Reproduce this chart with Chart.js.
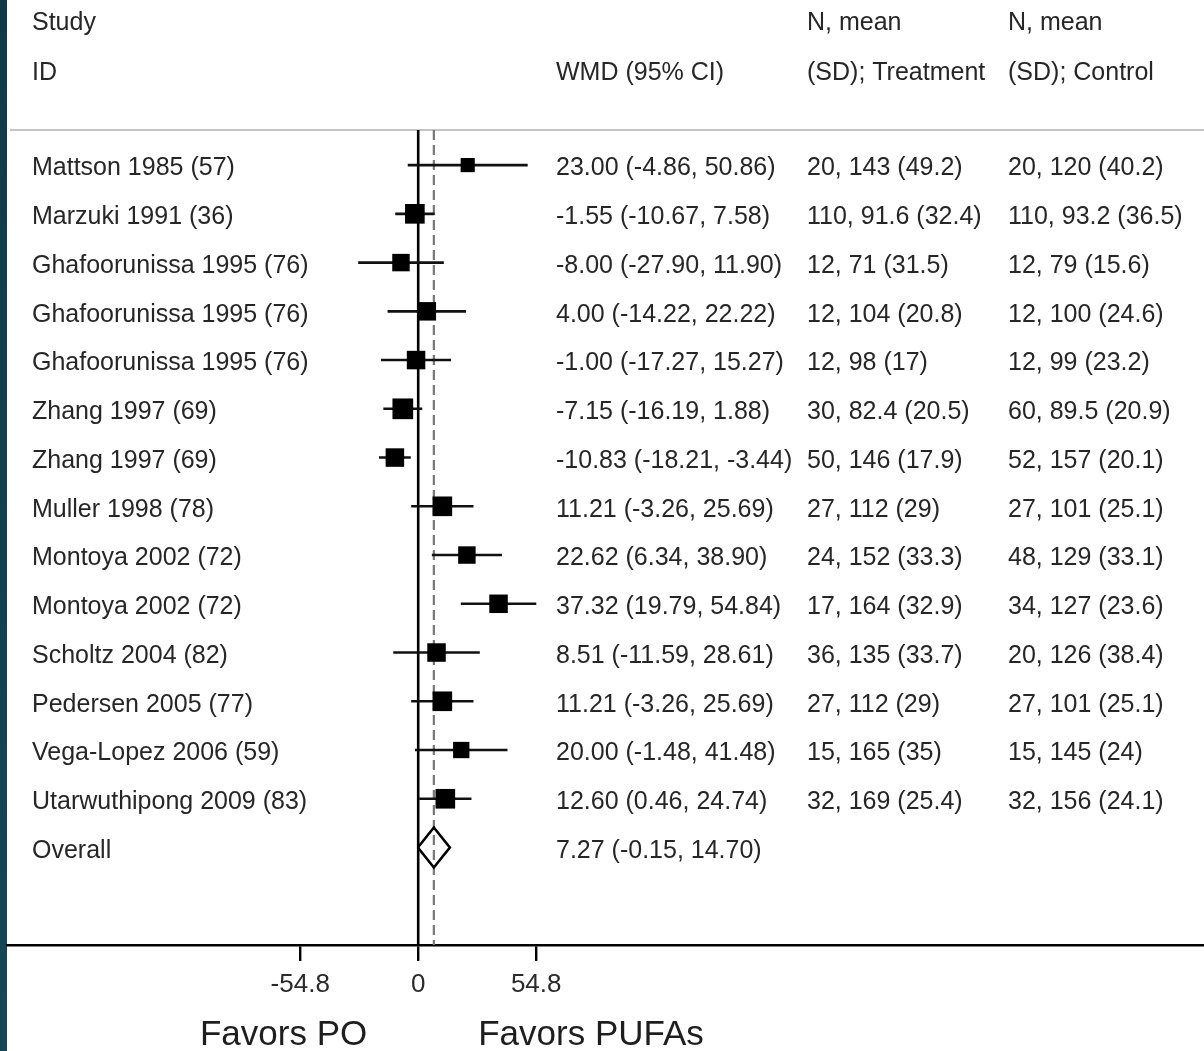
<!DOCTYPE html>
<html>
<head>
<meta charset="utf-8">
<script src="https://cdn.jsdelivr.net/npm/chart.js@4/dist/chart.umd.min.js"></script>
<style>
  html, body { margin: 0; padding: 0; background: #fff; }
  #wrap { width: 1204px; height: 1051px; position: relative; }
</style>
</head>
<body>
<div id="wrap"><canvas id="c" width="1204" height="1051"></canvas></div>
<script>
// ---------- data ----------
const studies = [
  'Mattson 1985 (57)', 'Marzuki 1991 (36)', 'Ghafoorunissa 1995 (76)', 'Ghafoorunissa 1995 (76)',
  'Ghafoorunissa 1995 (76)', 'Zhang 1997 (69)', 'Zhang 1997 (69)', 'Muller 1998 (78)',
  'Montoya 2002 (72)', 'Montoya 2002 (72)', 'Scholtz 2004 (82)', 'Pedersen 2005 (77)',
  'Vega-Lopez 2006 (59)', 'Utarwuthipong 2009 (83)'
];
const wmd   = [23.00, -1.55, -8.00, 4.00, -1.00, -7.15, -10.83, 11.21, 22.62, 37.32, 8.51, 11.21, 20.00, 12.60];
const ciLow = [-4.86, -10.67, -27.90, -14.22, -17.27, -16.19, -18.21, -3.26, 6.34, 19.79, -11.59, -3.26, -1.48, 0.46];
const ciHigh= [50.86, 7.58, 11.90, 22.22, 15.27, 1.88, -3.44, 25.69, 38.90, 54.84, 28.61, 25.69, 41.48, 24.74];
const weights = [4.2, 8.1, 6.4, 7.2, 7.2, 9.0, 7.2, 8.1, 6.4, 7.2, 7.2, 8.1, 5.6, 8.1]; // estimated % weights
const treatment = [
  '20, 143 (49.2)', '110, 91.6 (32.4)', '12, 71 (31.5)', '12, 104 (20.8)', '12, 98 (17)',
  '30, 82.4 (20.5)', '50, 146 (17.9)', '27, 112 (29)', '24, 152 (33.3)', '17, 164 (32.9)',
  '36, 135 (33.7)', '27, 112 (29)', '15, 165 (35)', '32, 169 (25.4)'
];
const control = [
  '20, 120 (40.2)', '110, 93.2 (36.5)', '12, 79 (15.6)', '12, 100 (24.6)', '12, 99 (23.2)',
  '60, 89.5 (20.9)', '52, 157 (20.1)', '27, 101 (25.1)', '48, 129 (33.1)', '34, 127 (23.6)',
  '20, 126 (38.4)', '27, 101 (25.1)', '15, 145 (24)', '32, 156 (24.1)'
];
const overall = { label: 'Overall', est: 7.27, lo: -0.15, hi: 14.70 };
const tickValues = [-54.8, 0, 54.8];
const tickLabels = ['-54.8', '0', '54.8'];
const headerCols = [['Study', 'ID'], ['', 'WMD (95% CI)'], ['N, mean', '(SD); Treatment'], ['N, mean', '(SD); Control']];
const favorLabels = ['Favors PO', 'Favors PUFAs'];

// ---------- chart ----------
const FONT = "'Liberation Sans', Arial, Helvetica, sans-serif";
const overallRow = studies.length;
const fmt = v => v.toFixed(2);
const boxRadius = w => 6.9 * Math.sqrt(w) / Math.SQRT2;

const datasets = [];
// squares
datasets.push({
  type: 'scatter',
  data: wmd.map((v, i) => ({ x: v, y: i })),
  pointStyle: 'rect',
  pointRadius: weights.map(boxRadius),
  pointHoverRadius: weights.map(boxRadius),
  backgroundColor: '#000', borderColor: '#000', borderWidth: 0,
  order: 0, clip: false
});
// CI lines
studies.forEach((s, i) => {
  datasets.push({
    type: 'line',
    data: [{ x: ciLow[i], y: i }, { x: ciHigh[i], y: i }],
    borderColor: '#111', borderWidth: 2.6, pointRadius: 0, fill: false,
    order: 1, clip: false
  });
});
// overall diamond
const dh = 0.41;
datasets.push({
  type: 'line',
  data: [
    { x: overall.lo, y: overallRow }, { x: overall.est, y: overallRow - dh },
    { x: overall.hi, y: overallRow }, { x: overall.est, y: overallRow + dh },
    { x: overall.lo, y: overallRow }
  ],
  borderColor: '#000', borderWidth: 2.6, pointRadius: 0, fill: false, tension: 0,
  borderJoinStyle: 'miter', order: 1, clip: false
});
// null line (0)
datasets.push({
  type: 'line',
  data: [{ x: 0, y: -0.72 }, { x: 0, y: 16 }],
  borderColor: '#000', borderWidth: 2.6, pointRadius: 0, order: 3, clip: false
});
// overall dashed line
datasets.push({
  type: 'line',
  data: [{ x: overall.est, y: -0.72 }, { x: overall.est, y: 16 }],
  borderColor: '#777', borderWidth: 2.2, borderDash: [10, 5], pointRadius: 0, order: 2, clip: false
});

const textPlugin = {
  id: 'forestText',
  beforeDraw(chart) {
    const ctx = chart.ctx;
    ctx.save();
    ctx.fillStyle = '#fff';
    ctx.fillRect(0, 0, chart.width, chart.height);
    const g = ctx.createLinearGradient(0, 0, 0, chart.height);
    g.addColorStop(0, '#113a49');
    g.addColorStop(1, '#164656');
    ctx.fillStyle = g;
    ctx.fillRect(0, 0, 7, chart.height);
    // header separator
    ctx.strokeStyle = '#c4c4c4';
    ctx.lineWidth = 2;
    ctx.beginPath();
    ctx.moveTo(10, chart.chartArea.top);
    ctx.lineTo(chart.width, chart.chartArea.top);
    ctx.stroke();
    ctx.restore();
  },
  afterDraw(chart) {
    const ctx = chart.ctx;
    const ys = chart.scales.y;
    const xs = chart.scales.x;
    const colX = [32, 556, 807, 1008];
    ctx.save();
    ctx.fillStyle = '#262626';
    ctx.textBaseline = 'middle';
    ctx.textAlign = 'left';
    ctx.font = '25px ' + FONT;
    // headers
    headerCols.forEach((pair, c) => {
      if (pair[0]) ctx.fillText(pair[0], colX[c], 23);
      if (pair[1]) ctx.fillText(pair[1], colX[c], 73);
    });
    // rows
    studies.forEach((s, i) => {
      const y = ys.getPixelForValue(i) + 3.5;
      ctx.fillText(s, colX[0], y);
      ctx.fillText(`${fmt(wmd[i])} (${fmt(ciLow[i])}, ${fmt(ciHigh[i])})`, colX[1], y);
      ctx.fillText(treatment[i], colX[2], y);
      ctx.fillText(control[i], colX[3], y);
    });
    const yo = ys.getPixelForValue(overallRow) + 3.5;
    ctx.fillText(overall.label, colX[0], yo);
    ctx.fillText(`${fmt(overall.est)} (${fmt(overall.lo)}, ${fmt(overall.hi)})`, colX[1], yo);
    // favors labels
    const x0 = xs.getPixelForValue(0);
    ctx.font = '35px ' + FONT;
    ctx.fillStyle = '#1e1e1e';
    ctx.textAlign = 'right';
    ctx.fillText(favorLabels[0], x0 - 51, 1035);
    ctx.textAlign = 'left';
    ctx.fillText(favorLabels[1], x0 + 60, 1035);
    ctx.restore();
  }
};

new Chart(document.getElementById('c'), {
  type: 'scatter',
  data: { datasets },
  options: {
    responsive: false,
    animation: false,
    events: [],
    layout: { autoPadding: false, padding: { left: 7, right: 0, top: 130, bottom: 0 } },
    plugins: { legend: { display: false }, tooltip: { enabled: false } },
    scales: {
      x: {
        type: 'linear',
        min: -191, max: 365,
        border: { display: true, color: '#000', width: 2.4 },
        grid: { drawOnChartArea: false, drawTicks: true, tickLength: 16, color: '#000', lineWidth: 2.4 },
        ticks: {
          font: { family: FONT, size: 26 }, color: '#2a2a2a', padding: 8,
          maxRotation: 0, autoSkip: false,
          callback: (v) => { const k = tickValues.indexOf(v); return k >= 0 ? tickLabels[k] : ''; }
        },
        afterBuildTicks: (scale) => { scale.ticks = tickValues.map(v => ({ value: v })); },
        afterFit: (scale) => { scale.height = 106; scale.paddingLeft = 0; scale.paddingRight = 0; }
      },
      y: {
        type: 'linear', display: false, reverse: true, min: -0.72, max: 16
      }
    }
  },
  plugins: [textPlugin]
});
</script>
</body>
</html>
